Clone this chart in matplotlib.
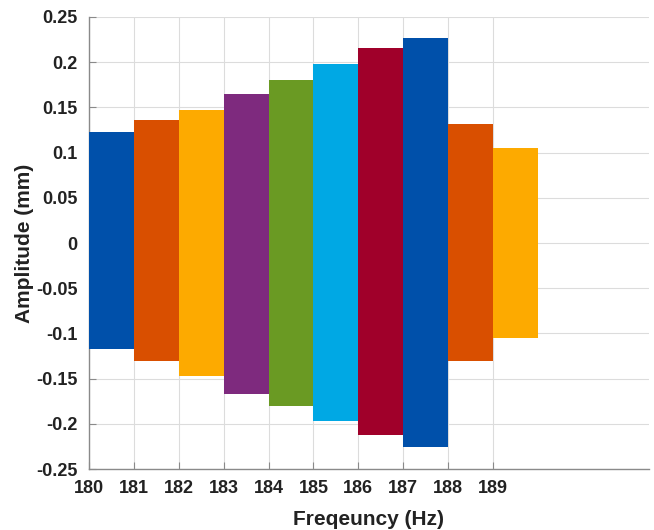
import numpy as np
import matplotlib.pyplot as plt

plt.rcParams['font.family'] = ['Liberation Sans', 'DejaVu Sans']

# frequency bands (Hz) and measured peak / trough amplitude (mm)
freqs = [180, 181, 182, 183, 184, 185, 186, 187, 188, 189]
amp_top = [0.1225, 0.1357, 0.1468, 0.165, 0.180, 0.198, 0.2154, 0.227, 0.1316, 0.1047]
amp_bot = [-0.117, -0.1305, -0.147, -0.167, -0.180, -0.1966, -0.2124, -0.226, -0.1305, -0.105]
colors = ['#0050AA', '#D94F00', '#FDAA00', '#7E2A7E', '#6A9A23',
          '#00A8E4', '#A0002A', '#0050AA', '#D94F00', '#FDAA00']
xticks = [180, 181, 182, 183, 184, 185, 186, 187, 188, 189]
yticks = [-0.25, -0.2, -0.15, -0.1, -0.05, 0, 0.05, 0.1, 0.15, 0.2, 0.25]
ytick_labels = ['-0.25', '-0.2', '-0.15', '-0.1', '-0.05', '0', '0.05', '0.1', '0.15', '0.2', '0.25']

fig = plt.figure(figsize=(6.54, 5.30), dpi=100)
ax = fig.add_axes([0.136, 0.115, 0.856, 0.853])

for f, t, b, c in zip(freqs, amp_top, amp_bot, colors):
    ax.bar(f, t - b, bottom=b, width=1.0, align='edge', color=c, linewidth=0, zorder=3)

ax.set_xlim(180, 192.47)
ax.set_ylim(-0.25, 0.25)
ax.set_xticks(xticks)
ax.set_yticks(yticks)
ax.set_yticklabels(ytick_labels)
ax.grid(True, color='#dcdcdc', linewidth=0.8, zorder=0)
ax.set_axisbelow(True)

for s in ['top', 'right']:
    ax.spines[s].set_visible(False)
for s in ['left', 'bottom']:
    ax.spines[s].set_color('#8a8a8a')
    ax.spines[s].set_linewidth(1.0)

ax.tick_params(direction='in', length=5, color='#8a8a8a', labelsize=13, pad=8)
for lab in ax.get_xticklabels() + ax.get_yticklabels():
    lab.set_fontweight('bold')
    lab.set_color('#222222')

ax.set_xlabel('Freqeuncy (Hz)', fontsize=15, fontweight='bold', color='#222222', labelpad=9)
ax.set_ylabel('Amplitude (mm)', fontsize=15, fontweight='bold', color='#222222', labelpad=2)

fig.savefig('out.png', dpi=100)
